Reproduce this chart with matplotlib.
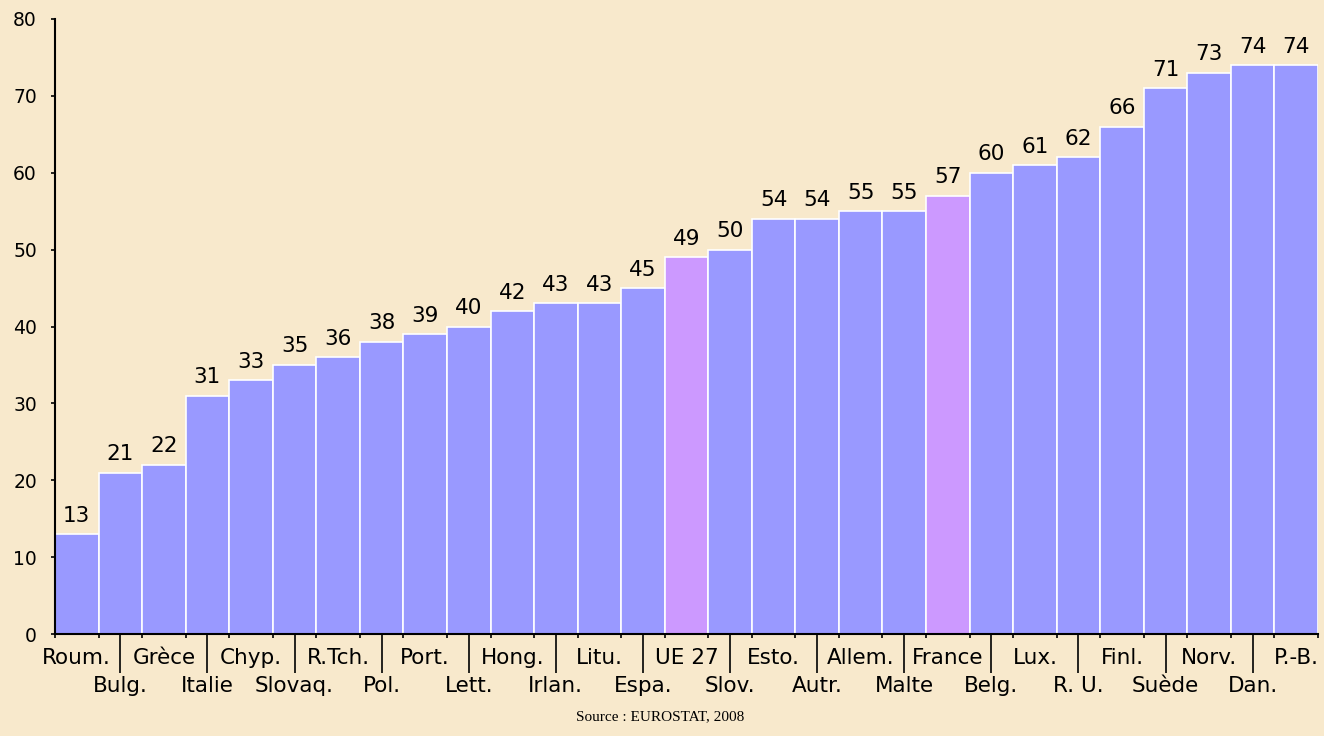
import matplotlib
matplotlib.use("Agg")
import matplotlib.pyplot as plt
import numpy as np

countries = ["Roum.", "Bulg.", "Grèce", "Italie", "Chyp.", "Slovaq.", "R.Tch.", "Pol.",
             "Port.", "Lett.", "Hong.", "Irlan.", "Litu.", "Espa.", "UE 27", "Slov.",
             "Esto.", "Autr.", "Allem.", "Malte", "France", "Belg.", "Lux.", "R. U.",
             "Finl.", "Suède", "Norv.", "Dan.", "P.-B."]
values = [13, 21, 22, 31, 33, 35, 36, 38, 39, 40, 42, 43, 43, 45, 49, 50,
          54, 54, 55, 55, 57, 60, 61, 62, 66, 71, 73, 74, 74]
highlight = ["UE 27", "France"]
yticks = [0, 10, 20, 30, 40, 50, 60, 70, 80]
source = "Source : EUROSTAT, 2008"

BG = "#F8E9CC"
BAR = "#9999FF"
HL = "#CC99FF"

fig = plt.figure(figsize=(13.24, 7.36), dpi=100, facecolor=BG)
ax = fig.add_axes([55/1324, 1-634/736, (1318-55)/1324, (634-19)/736])
ax.set_facecolor(BG)

x = np.arange(len(countries))
colors = [HL if c in highlight else BAR for c in countries]
ax.bar(x, values, width=1.0, color=colors, edgecolor="white", linewidth=1.2)

for xi, v in zip(x, values):
    ax.annotate(str(v), (xi, v), xytext=(0, 9), textcoords="offset points",
                ha="center", va="baseline", fontsize=15.5, family="DejaVu Sans")

ax.set_xlim(-0.5, len(countries) - 0.5)
ax.set_ylim(0, 80)
ax.set_yticks(yticks)
ax.set_yticklabels([str(t) for t in yticks], family="DejaVu Sans", fontsize=13.5)
ax.tick_params(axis="y", length=3, width=1.2, pad=10)

for s in ["top", "right"]:
    ax.spines[s].set_visible(False)
for s in ["left", "bottom"]:
    ax.spines[s].set_linewidth(1.5)

# row 1 labels (even indices), no visible tick
ax.set_xticks(x[0::2])
ax.set_xticklabels(countries[0::2], fontsize=15.5, family="DejaVu Sans")
ax.tick_params(axis="x", which="major", length=0, pad=10)
# small ticks at bar boundaries
ax.set_xticks(np.arange(len(countries) + 1) - 0.5, minor=True)
ax.tick_params(axis="x", which="minor", length=3, width=1.2)

# row 2 labels (odd indices) hanging under long separator ticks
sec = ax.secondary_xaxis("bottom")
sec.set_xticks(x[1::2])
sec.set_xticklabels(countries[1::2], fontsize=15.5, family="DejaVu Sans")
sec.tick_params(axis="x", length=28, width=1.2, direction="out", pad=2)
sec.spines["bottom"].set_visible(False)

fig.text(660/1324, 1-717/736, source, ha="center", va="center",
         family="Liberation Serif", fontsize=11)

fig.savefig("out.png", dpi=100, facecolor=BG)
